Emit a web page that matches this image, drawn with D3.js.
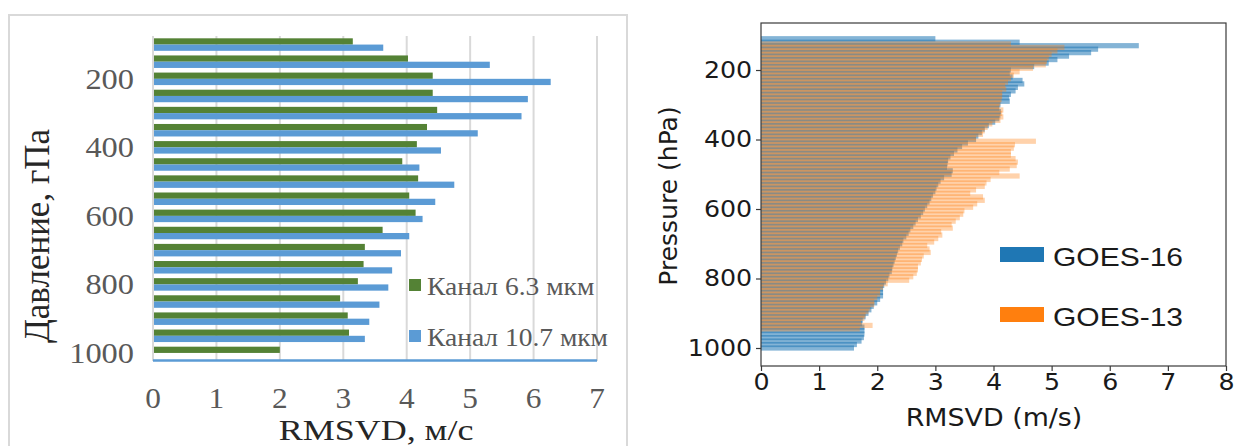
<!DOCTYPE html>
<html><head><meta charset="utf-8">
<script src="https://cdn.jsdelivr.net/npm/d3@7"></script>
<style>body{margin:0;background:#fff}svg{display:block}</style>
</head><body>
<svg id="c" width="1238" height="446"></svg>
<script>
// ---------- Left panel: RMSVD by pressure level, two channels ----------
const levelsL = [100,150,200,250,300,350,400,450,500,550,600,650,700,750,800,850,900,950,1000];
const ch63  = [3.15,4.02,4.41,4.41,4.48,4.32,4.16,3.93,4.18,4.04,4.14,3.62,3.34,3.32,3.23,2.95,3.07,3.09,2.00];
const ch107 = [3.63,5.31,6.27,5.91,5.81,5.12,4.54,4.20,4.75,4.45,4.25,4.04,3.91,3.77,3.71,3.57,3.41,3.34,null];
const xTicksL = [0,1,2,3,4,5,6,7];
const yTickLabelsL = [200,400,600,800,1000];
const seriesNamesL = ["Канал 6.3 мкм","Канал 10.7 мкм"];

// ---------- Right panel: RMSVD profiles for two satellites ----------
const levelsR = [110,120,130,140,150,160,170,180,190,200,210,220,230,240,250,260,270,280,290,300,
  310,320,330,340,350,360,370,380,390,400,410,420,430,440,450,460,470,480,490,500,
  510,520,530,540,550,560,570,580,590,600,610,620,630,640,650,660,670,680,690,700,
  710,720,730,740,750,760,770,780,790,800,810,820,830,840,850,860,870,880,890,900,
  910,920,930,940,950,960,970,980,990,1000];
const goes16 = [3.0,4.45,6.5,5.8,5.68,5.3,5.1,4.95,4.7,4.3,4.28,4.33,4.5,4.53,4.42,4.38,4.3,4.27,4.28,4.12,
  4.1,4.13,4.12,4.1,4.03,3.92,3.85,3.8,3.74,3.7,3.56,3.46,3.38,3.32,3.26,3.22,3.21,3.2,3.3,3.28,
  3.15,3.09,3.05,3.02,3.0,2.96,2.93,2.9,2.86,2.82,2.79,2.75,2.7,2.66,2.62,2.57,2.54,2.5,2.45,2.43,
  2.39,2.36,2.34,2.32,2.3,2.28,2.26,2.25,2.21,2.19,2.15,2.12,2.1,2.1,2.1,2.05,2.0,1.94,1.9,1.85,
  1.8,1.75,1.74,1.78,1.78,1.78,1.77,1.73,1.65,1.6];
const goes13 = [null,4.3,5.22,5.1,5.0,4.95,4.92,4.9,4.68,4.45,4.35,4.3,4.25,4.2,4.22,4.15,4.15,4.14,4.12,4.1,
  4.17,4.15,4.17,4.12,3.98,3.9,3.85,3.82,3.7,4.73,4.37,4.35,4.3,4.3,4.38,4.42,4.4,4.28,4.1,4.45,
  3.95,3.88,3.85,3.7,3.6,3.82,3.85,3.72,3.65,3.5,3.48,3.42,3.35,3.28,3.3,3.1,3.12,3.05,2.98,2.86,
  2.9,2.92,2.8,2.77,2.75,2.7,2.7,2.68,2.62,2.55,2.18,2.1,2.05,2.05,2.0,1.95,1.95,1.88,1.85,1.8,
  1.78,1.72,1.92,1.7,null,null,null,null,null,null];
const xTicksR = [0,1,2,3,4,5,6,7,8];
const yTicksR = [200,400,600,800,1000];
const seriesNamesR = ["GOES-16","GOES-13"];

const svg = d3.select("#c");

// ===== Left panel =====
const L = svg.append("g");
const serif = "'Liberation Serif','Times New Roman',serif";
L.append("rect").attr("x",9).attr("y",15).attr("width",618).attr("height",440)
  .attr("fill","none").attr("stroke","#d9d9d9").attr("stroke-width",2);

const xL = d3.scaleLinear().domain([0,7]).range([153,597]);
const yL = d3.scaleBand().domain(levelsL).range([36,361.5]).paddingInner(0.27).paddingOuter(0.135);
const yInner = d3.scaleBand().domain([0,1]).range([0,yL.bandwidth()]);

// vertical gridlines
L.append("g").selectAll("line").data(xTicksL).join("line")
  .attr("x1",d=>xL(d)).attr("x2",d=>xL(d)).attr("y1",36).attr("y2",361)
  .attr("stroke","#d9d9d9").attr("stroke-width",2);

const colorsL = ["#548235","#5b9bd5"];
[ch63,ch107].forEach((vals,si)=>{
  L.append("g").selectAll("rect").data(levelsL.map((p,i)=>({p,v:vals[i]})).filter(d=>d.v!=null))
    .join("rect")
    .attr("x",xL(0)+1).attr("y",d=>yL(d.p)+yInner(si))
    .attr("width",d=>xL(d.v)-xL(0)-1).attr("height",yInner.bandwidth())
    .attr("fill",colorsL[si]);
});
// bottom axis line
L.append("line").attr("x1",xL(0)).attr("x2",xL(7)).attr("y1",360.5).attr("y2",360.5)
  .attr("stroke","#5b9bd5").attr("stroke-width",2.5);

// text stretched slightly in width, as in the chart's exported image
function wideText(g, x, y, str, size, anchor, fill, family, sx){
  return g.append("text").attr("transform",`translate(${x},${y}) scale(${sx},1)`)
    .attr("text-anchor",anchor).attr("font-family",family).attr("font-size",size)
    .attr("fill",fill).text(str);
}
xTicksL.forEach(d=>wideText(L, xL(d), 408, d, 29, "middle", "#595959", serif, 1.08));
yTickLabelsL.forEach(d=>wideText(L, 134, yL(d)+yL.bandwidth()/2+10, d, 30, "end", "#595959", serif, 1.08));
wideText(L, 376, 440, "RMSVD, м/с", 30, "middle", "#262626", serif, 1.2);
L.append("text").attr("transform","translate(49,236) rotate(-90)").attr("text-anchor","middle")
  .attr("font-family",serif).attr("font-size",35).attr("fill","#262626").text("Давление, гПа");
// legend
seriesNamesL.forEach((name,i)=>{
  const y0 = 279 + i*51;
  L.append("rect").attr("x",409).attr("y",y0).attr("width",12).attr("height",12).attr("fill",colorsL[i]);
  wideText(L, 427, y0+16, name, 25, "start", "#595959", serif, 1.1);
});

// ===== Right panel =====
const R = svg.append("g");
const sans = "'DejaVu Sans',sans-serif";
const xR = d3.scaleLinear().domain([0,8]).range([761,1226]);
const yR = d3.scaleLinear().domain([64.7,1051.8]).range([23,366]);
// bars are 15 hPa tall on a 10 hPa grid, so neighbours overlap;
// the second series is shifted half a step
const barH = 15, dodge = [0,5];
const colorsR = ["#1f77b4","#ff7f0e"];
const alphaR = [0.55,0.35];

[goes16,goes13].forEach((vals,si)=>{
  R.append("g").selectAll("rect").data(levelsR.map((p,i)=>({p,v:vals[i]})).filter(d=>d.v!=null))
    .join("rect")
    .attr("x",xR(0)).attr("y",d=>yR(d.p+dodge[si]-barH/2))
    .attr("width",d=>xR(d.v)-xR(0)).attr("height",d=>yR(d.p+barH/2)-yR(d.p-barH/2))
    .attr("fill",colorsR[si]).attr("fill-opacity",alphaR[si]);
});

// frame
R.append("rect").attr("x",761).attr("y",23).attr("width",465).attr("height",343)
  .attr("fill","none").attr("stroke","#3a3a3a").attr("stroke-width",1.2);

const xAxR = R.append("g").attr("transform","translate(0,366)")
  .call(d3.axisBottom(xR).tickValues(xTicksR).tickFormat(d3.format("d")).tickSize(5).tickPadding(3));
const yAxR = R.append("g").attr("transform","translate(761,0)")
  .call(d3.axisLeft(yR).tickValues(yTicksR).tickFormat(d3.format("d")).tickSize(5).tickPadding(3));
[xAxR,yAxR].forEach(ax=>{
  ax.select(".domain").remove();
  ax.selectAll("line").attr("stroke","#3a3a3a").attr("stroke-width",1.2);
  ax.selectAll("text").attr("font-family",sans).attr("font-size",23).attr("fill","#1a1a1a")
    .attr("transform","scale(1.1,1)");
});
wideText(R, 994, 426, "RMSVD (m/s)", 24, "middle", "#1a1a1a", sans, 1.12);
R.append("text").attr("transform","translate(677,196) rotate(-90)").attr("text-anchor","middle")
  .attr("font-family",sans).attr("font-size",25).attr("fill","#1a1a1a").text("Pressure (hPa)");

seriesNamesR.forEach((name,i)=>{
  const y0 = 247 + i*60;
  R.append("rect").attr("x",1000).attr("y",y0).attr("width",44).attr("height",15).attr("fill",colorsR[i]);
  wideText(R, 1053, y0+19, name, 25, "start", "#1a1a1a", "'Liberation Sans',Arial,sans-serif", 1.2);
});
</script>
</body></html>
